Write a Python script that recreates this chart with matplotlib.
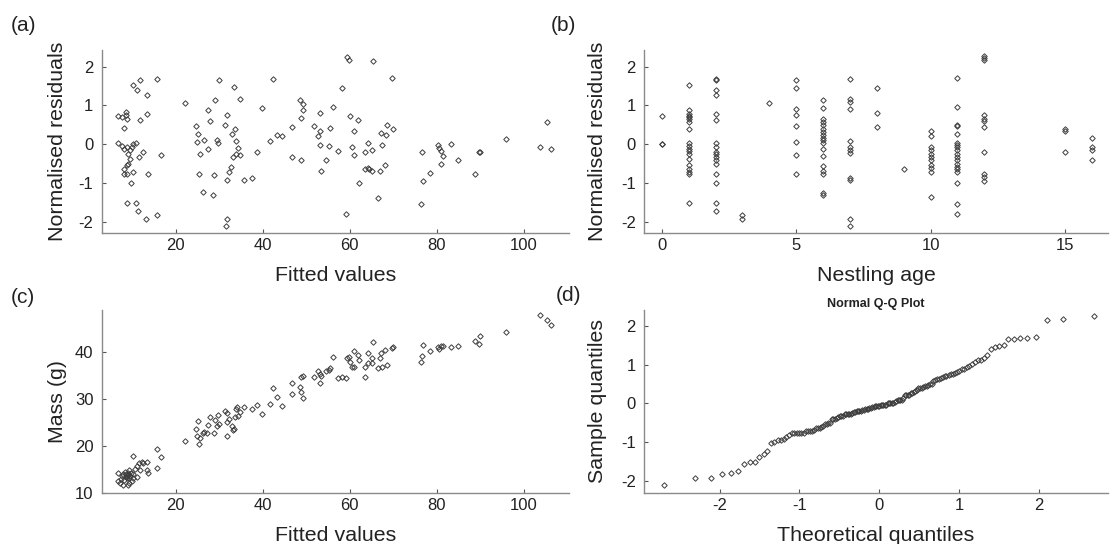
import matplotlib
matplotlib.use("Agg")
import matplotlib.pyplot as plt
from statistics import NormalDist

plt.rcParams['font.family'] = ['Liberation Sans', 'DejaVu Sans']
plt.rcParams['axes.unicode_minus'] = False

# ---------------- Panel (a): fitted values vs normalised residuals ----------------
fitted_a = [6.8, 7.6, 8.5, 8.6, 8.2, 8.7, 6.8, 7.7, 8.1, 8.7, 9.1, 9.5, 9.9, 10.3, 10.9,
            9.6, 9.1, 8.7, 8.2, 8.1, 8.9, 10.1, 9.7, 11.6, 12.4, 16.6, 13.7, 11.8, 13.3,
            10.3, 11.0, 11.8, 13.3, 15.6, 8.9, 10.9, 11.3, 13.2, 15.6,
            22.2, 24.6, 25.1, 24.8, 25.6, 25.4, 26.2, 26.6, 27.5, 27.4, 27.9, 28.7, 28.5,
            29.0, 29.4, 29.8, 29.9, 31.3, 31.7, 31.7, 31.7, 31.5, 32.3, 32.7, 33.1, 33.0,
            33.5, 33.6, 33.9, 33.9, 34.4, 34.9, 34.9, 35.6, 37.5, 38.8, 39.8, 41.7, 42.3,
            43.2, 44.4, 46.8, 46.7, 48.6, 49.2, 49.3, 48.7, 48.8, 51.8, 53.2, 53.2, 52.8,
            53.2, 53.4, 54.6, 55.2, 55.5, 56.1, 57.2, 58.3, 59.3, 59.8, 59.1, 60.1, 60.5,
            60.9, 60.9, 62.0, 62.2, 63.5, 64.1, 63.5, 64.1, 64.4, 65.2, 65.1, 65.3, 66.6,
            67.0, 67.2, 67.4, 68.0, 68.4, 68.5, 69.7, 70.0, 76.3, 76.6, 76.8, 78.5, 80.2,
            80.6, 80.9, 81.4, 80.9, 83.2, 85.0, 88.7, 89.8, 89.9, 96.0, 103.8, 105.4, 106.3]
resid_a = [0.72, 0.70, 0.83, 0.75, 0.41, 0.66, 0.02, -0.04, -0.11, -0.07, -0.24, -0.15, -0.07, 0.00, 0.03,
           -0.37, -0.50, -0.54, -0.63, -0.77, -0.76, -0.71, -1.01, -0.33, -0.21, -0.28, -0.76, 0.62, 0.79,
           1.52, 1.41, 1.65, 1.26, 1.69, -1.51, -1.51, -1.73, -1.92, -1.83,
           1.07, 0.46, 0.27, 0.06, -0.26, -0.77, -1.23, 0.10, -0.11, 0.89, 0.60, -0.80, -1.31,
           1.13, 0.10, 0.02, 1.65, 0.49, 0.75, -0.93, -1.93, -2.11, -0.71, -0.58, -0.33, 0.27,
           1.48, 0.40, 0.09, -0.26, -0.09, -0.28, 1.16, -0.91, -0.86, -0.20, 0.94, 0.09, 1.68,
           0.23, 0.21, 0.45, -0.34, 1.13, 1.03, 0.89, 0.68, -0.40, 0.47, 0.81, 0.34, 0.21,
           -0.03, -0.70, -0.40, -0.04, 0.43, 0.96, -0.18, 1.45, 2.25, 2.18, -1.79, 0.73, -0.07,
           -0.27, 0.33, 0.62, -0.99, -0.21, 0.02, -0.64, -0.60, -0.64, -0.70, -0.15, 2.14, -1.38,
           -0.69, 0.29, -0.03, -0.54, 0.23, 0.49, 1.72, 0.40, -1.55, -0.20, -0.94, -0.75, -0.03,
           -0.09, -0.17, -0.31, -0.50, 0.00, -0.40, -0.77, -0.20, -0.19, 0.14, -0.07, 0.58, -0.13]

# ---------------- Panel (b): nestling age vs normalised residuals ----------------
ages_b = [0, 1, 2, 3, 4, 5, 6, 7, 8, 9, 10, 11, 12, 15, 16]
resid_by_age = [
    [0.72, 0.00, 0.01],
    [1.52, 0.88, 0.79, 0.72, 0.69, 0.64, 0.58, 0.40, 0.02, -0.04, -0.11, -0.17, -0.24,
     -0.37, -0.54, -0.63, -0.71, -0.77, -1.51],
    [1.69, 1.65, 1.41, 1.26, 0.79, 0.62, 0.03, -0.07, -0.20, -0.26, -0.33, -0.41, -0.50,
     -0.76, -1.01, -1.51, -1.73],
    [-1.83, -1.92],
    [1.07],
    [1.65, 1.46, 0.92, 0.75, 0.46, 0.06, -0.27, -0.77],
    [1.15, 0.94, 0.66, 0.58, 0.49, 0.40, 0.32, 0.23, 0.17, 0.10, 0.02, -0.11, -0.31,
     -0.56, -0.70, -0.77, -1.25, -1.31],
    [1.68, 1.16, 1.09, 0.90, 0.09, -0.07, -0.15, -0.22, -0.88, -0.93, -1.92, -2.11],
    [1.45, 0.81, 0.45],
    [-0.65],
    [0.34, 0.21, -0.07, -0.15, -0.26, -0.34, -0.41, -0.54, -0.61, -0.71, -1.37],
    [1.72, 0.96, 0.49, 0.46, 0.27, 0.02, -0.03, -0.07, -0.14, -0.26, -0.34, -0.41, -0.50,
     -0.58, -0.65, -0.71, -1.00, -1.53, -1.79],
    [2.27, 2.23, 2.16, 0.75, 0.66, 0.60, 0.45, -0.20, -0.76, -0.84, -0.95],
    [0.40, 0.34, -0.20],
    [0.15, -0.07, -0.15, -0.40],
]

# ---------------- Panel (c): fitted values vs mass ----------------
fitted_c = [6.8, 6.8, 7.2, 8.0, 9.0, 8.1, 8.6, 9.1, 8.7, 9.5, 9.7, 10.1, 9.3, 8.0, 10.3, 10.7,
            11.0, 11.6, 12.2, 12.6, 11.8, 13.3, 13.3, 13.7, 15.6, 15.6, 16.6, 11.0, 9.9, 8.4,
            7.6, 7.4, 10.3, 9.3, 8.8, 9.2, 8.5, 9.0,
            22.2, 24.6, 24.8, 25.1, 25.4, 25.6, 26.2, 26.6, 27.1, 27.5, 27.9, 28.7, 29.0,
            29.4, 29.8, 29.9, 31.3, 31.7, 31.9, 31.9, 32.3, 32.9, 33.1, 33.3, 33.6, 33.9,
            34.0, 34.4, 34.9, 35.6, 37.5, 38.8, 39.8, 41.7, 42.3, 43.2, 44.4, 46.8, 46.7,
            48.6, 48.7, 48.8, 49.3, 49.2, 51.8, 52.8, 53.2, 53.3, 53.2, 54.6, 55.2, 55.5,
            56.1, 57.2, 58.3, 59.1, 59.3, 59.8, 60.1, 60.5, 60.9, 60.9, 62.0, 62.2, 63.5,
            63.6, 64.1, 64.1, 65.1, 65.3, 65.2, 66.6, 67.0, 67.2, 67.4, 68.0, 68.5, 69.7,
            70.0, 76.3, 76.6, 76.8, 78.5, 80.2, 80.6, 80.9, 81.4, 83.2, 85.0, 88.7, 89.8,
            89.9, 96.0, 103.8, 105.4, 106.2]
mass_c = [14.3, 12.4, 12.0, 11.6, 11.6, 12.7, 13.4, 13.8, 13.1, 13.6, 14.3, 14.0, 14.8, 14.0, 17.8, 15.0,
          15.6, 16.4, 16.6, 16.3, 14.8, 16.6, 14.8, 14.3, 19.3, 15.2, 17.7, 13.3, 12.6, 14.5,
          13.6, 12.9, 13.1, 12.0, 13.5, 13.2, 13.9, 14.1,
          21.1, 23.5, 22.0, 25.4, 20.5, 21.6, 22.7, 23.0, 22.7, 24.5, 26.1, 22.8, 25.5,
          24.3, 26.6, 24.7, 27.5, 22.1, 25.0, 27.1, 25.7, 24.3, 23.4, 23.5, 26.2, 27.8,
          28.4, 26.4, 27.3, 28.2, 27.8, 28.7, 26.8, 29.0, 32.3, 30.4, 28.5, 33.5, 31.0,
          32.5, 31.4, 34.7, 35.0, 30.2, 34.6, 35.9, 35.4, 34.9, 33.4, 36.0, 36.2, 36.7,
          38.9, 34.4, 34.8, 34.4, 38.7, 38.9, 37.8, 36.9, 40.3, 36.8, 39.4, 38.4, 36.8,
          34.6, 39.8, 37.7, 38.7, 42.1, 37.7, 36.7, 38.7, 39.8, 36.9, 40.5, 37.2, 40.9,
          41.1, 37.8, 39.1, 41.6, 40.3, 41.2, 40.6, 41.4, 41.4, 41.2, 41.4, 42.4, 41.8,
          43.5, 44.2, 47.9, 46.8, 45.9]

# ---------------- Panel (d): Normal Q-Q plot of the residuals ----------------
sample_q = sorted(resid_a)
n_q = len(sample_q)
theoretical_q = [NormalDist().inv_cdf((i + 0.5) / n_q) for i in range(n_q)]

# ---------------- Drawing ----------------
W, H = 1110, 544
fig = plt.figure(figsize=(W / 100, H / 100), dpi=100)

def px_axes(left, top, right, bottom):
    return fig.add_axes([left / W, 1 - bottom / H, (right - left) / W, (bottom - top) / H])

spine_c = '#8a8a8a'
mk = dict(ls='none', marker='D', ms=2.8, mfc='none', mec='#3c3c3c', mew=0.7)
tick_fs = 12
label_fs = 15.4

def style(ax, xlabel, ylabel, ylab_off_px):
    for s in ('top', 'right'):
        ax.spines[s].set_visible(False)
    for s in ('left', 'bottom'):
        ax.spines[s].set_color(spine_c)
        ax.spines[s].set_linewidth(1.0)
    ax.tick_params(direction='in', length=3, width=0.8, color='#555555',
                   labelsize=tick_fs, labelcolor='#222222')
    ax.tick_params(axis='y', pad=6)
    ax.tick_params(axis='x', pad=3.5)
    ax.set_xlabel(xlabel, fontsize=label_fs, color='#222222')
    ax.set_ylabel(ylabel, fontsize=label_fs, color='#222222')
    bb = ax.get_position()
    hpx = bb.height * H
    wpx = bb.width * W
    ax.xaxis.set_label_coords(0.5, -33.5 / hpx)
    ax.xaxis.label.set_va('top')
    ax.yaxis.set_label_coords(-ylab_off_px / wpx, 0.5)

# (a)
ax_a = px_axes(101.7, 50, 569, 232.7)
ax_a.plot(fitted_a, resid_a, **mk)
ax_a.set_xlim(3.0, 110.4)
ax_a.set_ylim(-2.28, 2.43)
ax_a.set_xticks([20, 40, 60, 80, 100])
ax_a.set_yticks([-2, -1, 0, 1, 2])
style(ax_a, 'Fitted values', 'Normalised residuals', 35)

# (b)
age_flat = [a for a, rs in zip(ages_b, resid_by_age) for _ in rs]
res_flat = [r for rs in resid_by_age for r in rs]
ax_b = px_axes(644, 50, 1108, 232.7)
ax_b.plot(age_flat, res_flat, **mk)
ax_b.set_xlim(-0.66, 16.6)
ax_b.set_ylim(-2.28, 2.43)
ax_b.set_xticks([0, 5, 10, 15])
ax_b.set_yticks([-2, -1, 0, 1, 2])
style(ax_b, 'Nestling age', 'Normalised residuals', 37)

# (c)
ax_c = px_axes(101.7, 310, 569, 492.7)
ax_c.plot(fitted_c, mass_c, **mk)
ax_c.set_xlim(3.0, 110.4)
ax_c.set_ylim(10, 49.0)
ax_c.set_xticks([20, 40, 60, 80, 100])
ax_c.set_yticks([10, 20, 30, 40])
style(ax_c, 'Fitted values', 'Mass (g)', 35)

# (d)
ax_d = px_axes(644, 310, 1108, 492.7)
ax_d.plot(theoretical_q, sample_q, **mk)
ax_d.set_xlim(-2.95, 2.87)
ax_d.set_ylim(-2.30, 2.41)
ax_d.set_xticks([-2, -1, 0, 1, 2])
ax_d.set_yticks([-2, -1, 0, 1, 2])
style(ax_d, 'Theoretical quantiles', 'Sample quantiles', 37)
ax_d.set_title('Normal Q-Q Plot', fontsize=9, fontweight='bold', pad=1, color='#222222')

# panel letters
panel_fs = 15
for lbl, x, y in [('(a)', 11, 16), ('(b)', 551, 16), ('(c)', 11, 288), ('(d)', 556, 286)]:
    fig.text(x / W, 1 - y / H, lbl, fontsize=panel_fs, va='top', ha='left', color='#222222')

fig.savefig('out.png', dpi=100)
